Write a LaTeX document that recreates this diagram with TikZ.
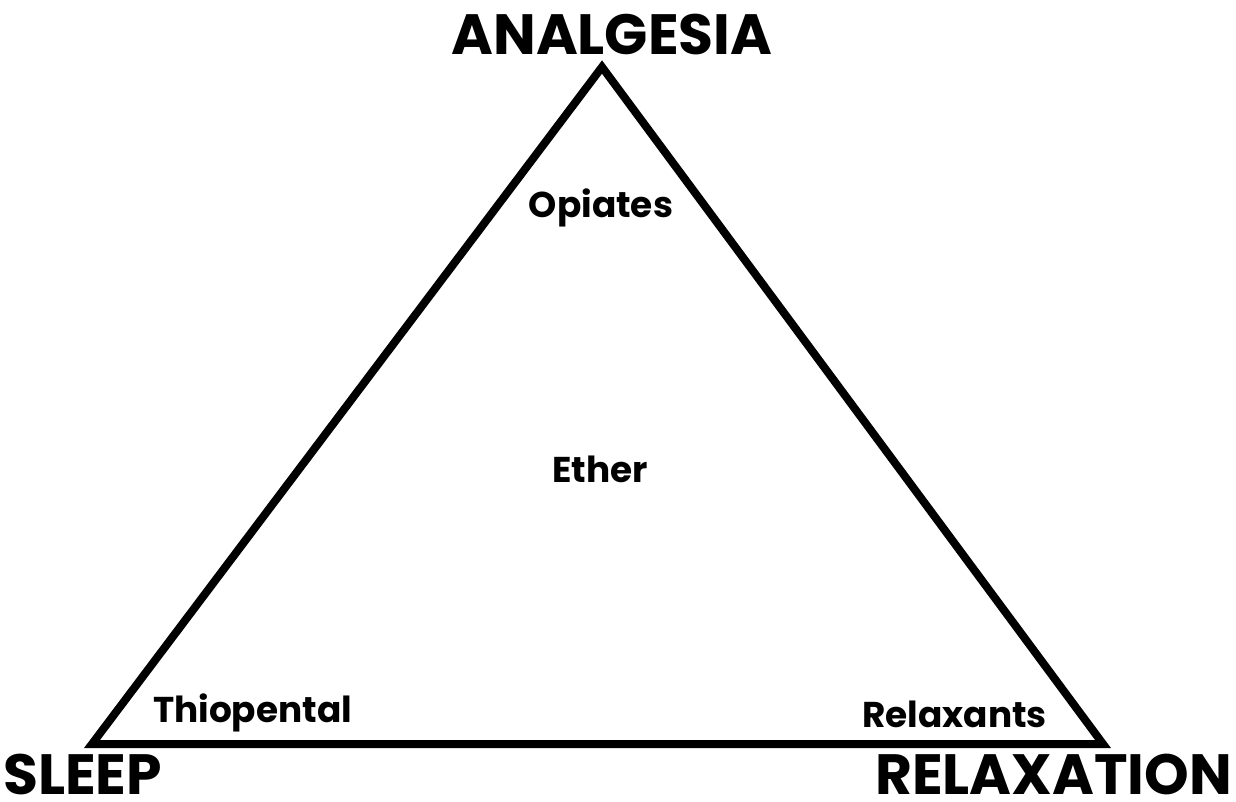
\documentclass[tikz,border=0pt]{standalone}
\usepackage{fontspec}
\setmainfont{Poppins}
\tikzstyle{corner}=[inner sep=0pt,text depth=0pt,font=\fontsize{57}{60}\selectfont\bfseries]
\tikzstyle{drug}=[inner sep=0pt,font=\fontsize{36}{40}\selectfont\bfseries]
\begin{document}
\begin{tikzpicture}[x=1bp,y=-1bp]
  \useasboundingbox (0,0) rectangle (1236,802);
  \coordinate (a) at (602,67);
  \coordinate (s) at (92,744);
  \coordinate (r) at (1103,744);
  \draw[line width=8bp,line join=miter] (a) -- (s) -- (r) -- cycle;
  \node[corner,anchor=base] (an) at (612,55) {ANALGESIA};
  \node[corner,anchor=base west] (sl) at (3,794) {SLEEP};
  \node[corner,anchor=base east] (re) at (1232,794) {RELAXATION};
  \node[drug,anchor=base] (op) at (601,217) {Opiates};
  \node[drug,anchor=base] (et) at (600,482) {Ether};
  \node[drug,anchor=base west] (th) at (153,722) {Thiopental};
  \node[drug,anchor=base east] (rx) at (1047,727) {Relaxants};
\end{tikzpicture}
\end{document}
